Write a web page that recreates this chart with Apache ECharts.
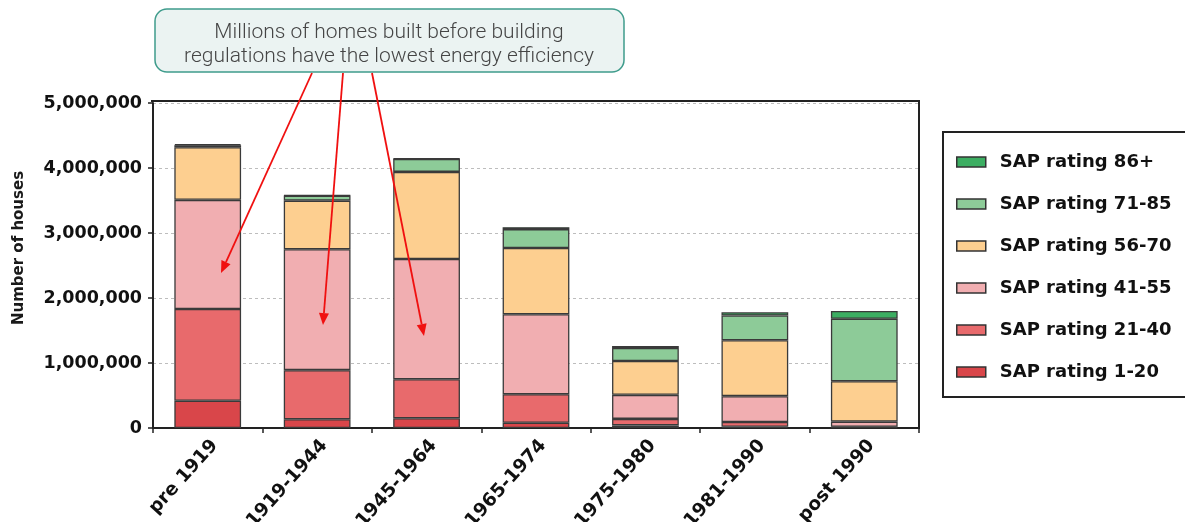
<!DOCTYPE html>
<html>
<head>
<meta charset="utf-8">
<script src="https://cdn.jsdelivr.net/npm/echarts@6/dist/echarts.min.js"></script>
<style>
  html, body { margin: 0; padding: 0; background: #ffffff; }
  #chart { width: 1185px; height: 522px; }
</style>
</head>
<body>
<div id="chart"></div>
<script>
// Housing stock by construction period, split by SAP energy rating band
const categories = ['pre 1919', '1919-1944', '1945-1964', '1965-1974', '1975-1980', '1981-1990', 'post 1990'];
const sap1to20   = [420000, 134000, 150000,  80000,  40000,  20000,  10000];
const sap21to40  = [1410000, 756000, 600000, 440000, 100000,  72000,  10000];
const sap41to55  = [1680000, 1860000, 1850000, 1230000, 370000, 398000,  78000];
const sap56to70  = [810000, 748000, 1340000, 1020000, 520000, 860000, 622000];
const sap71to85  = [30000,  77000, 200000, 290000, 200000, 380000, 960000];
const sap86plus  = [15000,   5000,   5000,  30000,  30000,  50000, 120000];
const yTickValues = [0, 1000000, 2000000, 3000000, 4000000, 5000000];

const seriesDefs = [
  { name: 'SAP rating 1-20',  data: sap1to20,  color: '#d9464a' },
  { name: 'SAP rating 21-40', data: sap21to40, color: '#e86a6c' },
  { name: 'SAP rating 41-55', data: sap41to55, color: '#f1aeb1' },
  { name: 'SAP rating 56-70', data: sap56to70, color: '#fdcf90' },
  { name: 'SAP rating 71-85', data: sap71to85, color: '#8dcb98' },
  { name: 'SAP rating 86+',   data: sap86plus, color: '#3cae62' }
];

const boldFont = 'DejaVu Sans';
const noteFont = 'Roboto';

// Arrow from (x1,y1) to a filled head at (x2,y2)
function arrow(x1, y1, x2, y2) {
  const a = Math.atan2(y2 - y1, x2 - x1);
  const L = 12, W = 5;
  const bx = x2 - L * Math.cos(a), by = y2 - L * Math.sin(a);
  const px = -Math.sin(a), py = Math.cos(a);
  return [
    { type: 'line', z: 20, shape: { x1: x1, y1: y1, x2: bx, y2: by },
      style: { stroke: '#f01010', lineWidth: 1.8 } },
    { type: 'polygon', z: 20,
      shape: { points: [[x2, y2], [bx + W * px, by + W * py], [bx - W * px, by - W * py]] },
      style: { fill: '#f01010' } }
  ];
}

const chart = echarts.init(document.getElementById('chart'), null, { renderer: 'canvas' });

const option = {
  animation: false,
  backgroundColor: '#ffffff',
  grid: { left: 153, right: 266, top: 103, bottom: 94, containLabel: false, outerBoundsMode: 'none' },
  legend: {
    orient: 'vertical',
    left: 956,
    top: 152,
    padding: 0,
    icon: 'rect',
    itemWidth: 29,
    itemHeight: 10,
    itemGap: 22,
    data: seriesDefs.map(s => s.name).reverse(),
    itemStyle: { borderColor: '#333333', borderWidth: 1.5 },
    textStyle: {
      fontFamily: boldFont, fontWeight: 'bold', fontSize: 18, color: '#111111',
      lineHeight: 20, padding: [0, 0, 0, 9]
    }
  },
  xAxis: {
    type: 'category',
    data: categories,
    boundaryGap: true,
    axisLine: { lineStyle: { color: '#222222', width: 2 } },
    axisTick: { show: true, interval: 0, length: 5, lineStyle: { color: '#222222', width: 1.5 } },
    axisLabel: {
      interval: 0, rotate: 48, margin: 8, verticalAlign: 'top',
      fontFamily: boldFont, fontWeight: 'bold', fontSize: 18.5, color: '#111111'
    }
  },
  yAxis: {
    type: 'value',
    min: 0, max: 5000000, interval: 1000000,
    axisLine: { show: true, lineStyle: { color: '#222222', width: 2 } },
    axisTick: { show: true, length: 5, lineStyle: { color: '#222222', width: 1.5 } },
    axisLabel: {
      margin: 11,
      fontFamily: boldFont, fontWeight: 'bold', fontSize: 17.5, color: '#111111',
      formatter: v => (yTickValues.includes(v) ? v.toLocaleString('en-US') : '')
    },
    splitLine: { show: true, lineStyle: { color: '#bdbdbd', width: 1, type: [3, 3] } }
  },
  series: seriesDefs.map(s => ({
    name: s.name,
    type: 'bar',
    stack: 'homes',
    barWidth: '61%',
    data: s.data,
    itemStyle: { color: s.color, borderColor: '#3a3a3a', borderWidth: 1.3 },
    emphasis: { disabled: true }
  })),
  graphic: [
    // frame: top and right edges of the plot box
    { type: 'line', z: 10, shape: { x1: 151, y1: 101, x2: 919, y2: 101 }, style: { stroke: '#222222', lineWidth: 2 } },
    { type: 'line', z: 10, shape: { x1: 919, y1: 100, x2: 919, y2: 429 }, style: { stroke: '#222222', lineWidth: 2 } },
    // legend frame
    { type: 'rect', z: 5, shape: { x: 943, y: 132, width: 260, height: 265 },
      style: { fill: 'none', stroke: '#222222', lineWidth: 2 } },
    // y axis title
    { type: 'text', z: 10, x: 19, y: 248, rotation: Math.PI / 2,
      style: { text: 'Number of houses', fontFamily: boldFont, fontWeight: 'bold', fontSize: 15,
               fill: '#1a1a1a', align: 'center', verticalAlign: 'middle' } },
    // note box
    { type: 'rect', z: 15, shape: { x: 155, y: 9, width: 469, height: 63, r: 12 },
      style: { fill: '#ebf3f2', stroke: '#3f9c8c', lineWidth: 1.5 } },
    { type: 'text', z: 16, x: 389, y: 45,
      style: { text: 'Millions of homes built before building\nregulations have the lowest energy efficiency',
               fontFamily: noteFont, fontWeight: 300, fontSize: 21, lineHeight: 24, fill: '#454545',
               align: 'center', verticalAlign: 'middle' } },
    ...arrow(312, 73, 221, 273),
    ...arrow(343, 73, 323, 325),
    ...arrow(372, 73, 424, 336)
  ]
};

chart.setOption(option);
</script>
</body>
</html>
